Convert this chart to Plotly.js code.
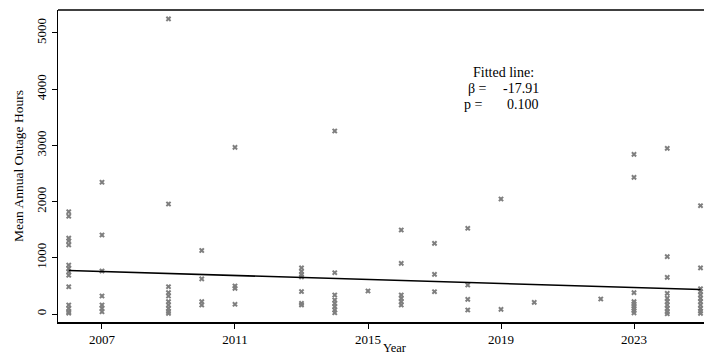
<!DOCTYPE html>
<html>
<head>
<meta charset="utf-8">
<script src="https://cdn.plot.ly/plotly-3.0.1.min.js"></script>
<style>html,body{margin:0;padding:0;background:#fff;}#chart{width:704px;height:356px;}</style>
</head>
<body>
<div id="chart"></div>
<script>
// Scatter data: year of each observation and mean annual outage hours
const years2006 = [2006,2006,2006,2006,2006,2006,2006,2006,2006,2006,2006,2006,2006,2006];
const hours2006 = [1820,1740,1350,1300,1230,870,810,750,690,485,160,100,40,15];
const years2007 = [2007,2007,2007,2007,2007,2007,2007];
const hours2007 = [2344,1406,765,320,160,100,40];
const years2009 = [2009,2009,2009,2009,2009,2009,2009,2009,2009,2009];
const hours2009 = [5250,1957,486,380,320,220,160,100,45,10];
const years2010 = [2010,2010,2010,2010];
const hours2010 = [1130,625,220,160];
const years2011 = [2011,2011,2011,2011];
const hours2011 = [2966,498,457,173];
const years2013 = [2013,2013,2013,2013,2013,2013,2013];
const hours2013 = [820,760,700,660,400,190,160];
const years2014 = [2014,2014,2014,2014,2014,2014,2014,2014];
const hours2014 = [3256,735,338,249,190,130,71,23];
const years2015 = [2015];
const hours2015 = [409];
const years2016 = [2016,2016,2016,2016,2016,2016];
const hours2016 = [1495,902,338,279,219,160];
const years2017 = [2017,2017,2017];
const hours2017 = [1258,706,397];
const years2018 = [2018,2018,2018,2018];
const hours2018 = [1525,516,261,71];
const years2019 = [2019,2019];
const hours2019 = [2046,83];
const years2020 = [2020];
const hours2020 = [208];
const years2022 = [2022];
const hours2022 = [267];
const years2023 = [2023,2023,2023,2023,2023,2023,2023,2023,2023];
const hours2023 = [2841,2432,380,220,180,140,100,60,20];
const years2024 = [2024,2024,2024,2024,2024,2024,2024,2024,2024,2024];
const hours2024 = [2948,1020,653,368,280,220,160,100,40,5];
const years2025 = [2025,2025,2025,2025,2025,2025,2025,2025,2025,2025,2025];
const hours2025 = [1927,820,450,400,340,280,220,160,100,50,10];

// Fitted line endpoints
const fitYears = [2006, 2025];
const fitHours = [775, 435];

// Tick labels
const xTicks = [2007, 2011, 2015, 2019, 2023];
const yTicks = [0, 1000, 2000, 3000, 4000, 5000];

const allYears = [].concat(years2006,years2007,years2009,years2010,years2011,years2013,years2014,years2015,years2016,years2017,years2018,years2019,years2020,years2022,years2023,years2024,years2025);
const allHours = [].concat(hours2006,hours2007,hours2009,hours2010,hours2011,hours2013,hours2014,hours2015,hours2016,hours2017,hours2018,hours2019,hours2020,hours2022,hours2023,hours2024,hours2025);

const serif = "Liberation Serif, DejaVu Serif, serif";

const traces = [
  {
    x: allYears, y: allHours, type: 'scatter', mode: 'markers',
    marker: {symbol: 'x', size: 5, color: '#7f7f7f', line: {width: 0}},
    cliponaxis: false, hoverinfo: 'skip'
  },
  {
    x: fitYears, y: fitHours, type: 'scatter', mode: 'lines',
    line: {color: '#000000', width: 1.6}, cliponaxis: false, hoverinfo: 'skip'
  }
];

const annFont = {family: serif, size: 14, color: '#000'};

const layout = {
  width: 704, height: 356,
  margin: {l: 58, r: 0, t: 10, b: 34},
  paper_bgcolor: '#ffffff', plot_bgcolor: '#ffffff',
  showlegend: false,
  font: {family: serif, size: 13, color: '#000'},
  xaxis: {
    range: [2005.677, 2025.105],
    tickvals: xTicks, ticktext: xTicks.map(String),
    showgrid: false, zeroline: false,
    showline: true, linecolor: '#000', linewidth: 1.5,
    ticks: 'outside', ticklen: 5, tickwidth: 1, tickcolor: '#000',
    tickfont: {family: serif, size: 13}
  },
  yaxis: {
    range: [-142, 5409],
    tickvals: yTicks, ticktext: yTicks.map(String),
    tickangle: -90,
    showgrid: false, zeroline: false,
    showline: true, linecolor: '#000', linewidth: 1.5,
    ticks: 'outside', ticklen: 5, tickwidth: 1, tickcolor: '#000',
    tickfont: {family: serif, size: 13},
    title: {text: 'Mean Annual Outage Hours', font: {family: serif, size: 13.5}, standoff: 7}
  },
  shapes: [
    {type: 'line', xref: 'paper', yref: 'paper', x0: 0, x1: 1, y0: 1, y1: 1,
     line: {color: '#000', width: 1.5}}
  ],
  annotations: [
    {xref: 'paper', yref: 'paper', x: 0.521, y: -0.083, text: 'Year', showarrow: false,
     xanchor: 'center', yanchor: 'middle', font: {family: serif, size: 12.5, color: '#000'}},
    {xref: 'paper', yref: 'paper', x: 0.689, y: 0.800, text: 'Fitted line:', showarrow: false,
     xanchor: 'center', yanchor: 'middle', font: annFont},
    {xref: 'paper', yref: 'paper', x: 0.631, y: 0.748, text: 'β =', showarrow: false,
     xanchor: 'left', yanchor: 'middle', font: annFont},
    {xref: 'paper', yref: 'paper', x: 0.748, y: 0.748, text: '-17.91', showarrow: false,
     xanchor: 'right', yanchor: 'middle', font: annFont},
    {xref: 'paper', yref: 'paper', x: 0.625, y: 0.696, text: 'p =', showarrow: false,
     xanchor: 'left', yanchor: 'middle', font: annFont},
    {xref: 'paper', yref: 'paper', x: 0.748, y: 0.696, text: '0.100', showarrow: false,
     xanchor: 'right', yanchor: 'middle', font: annFont}
  ]
};

Plotly.newPlot('chart', traces, layout, {displayModeBar: false, staticPlot: true});
</script>
</body>
</html>
